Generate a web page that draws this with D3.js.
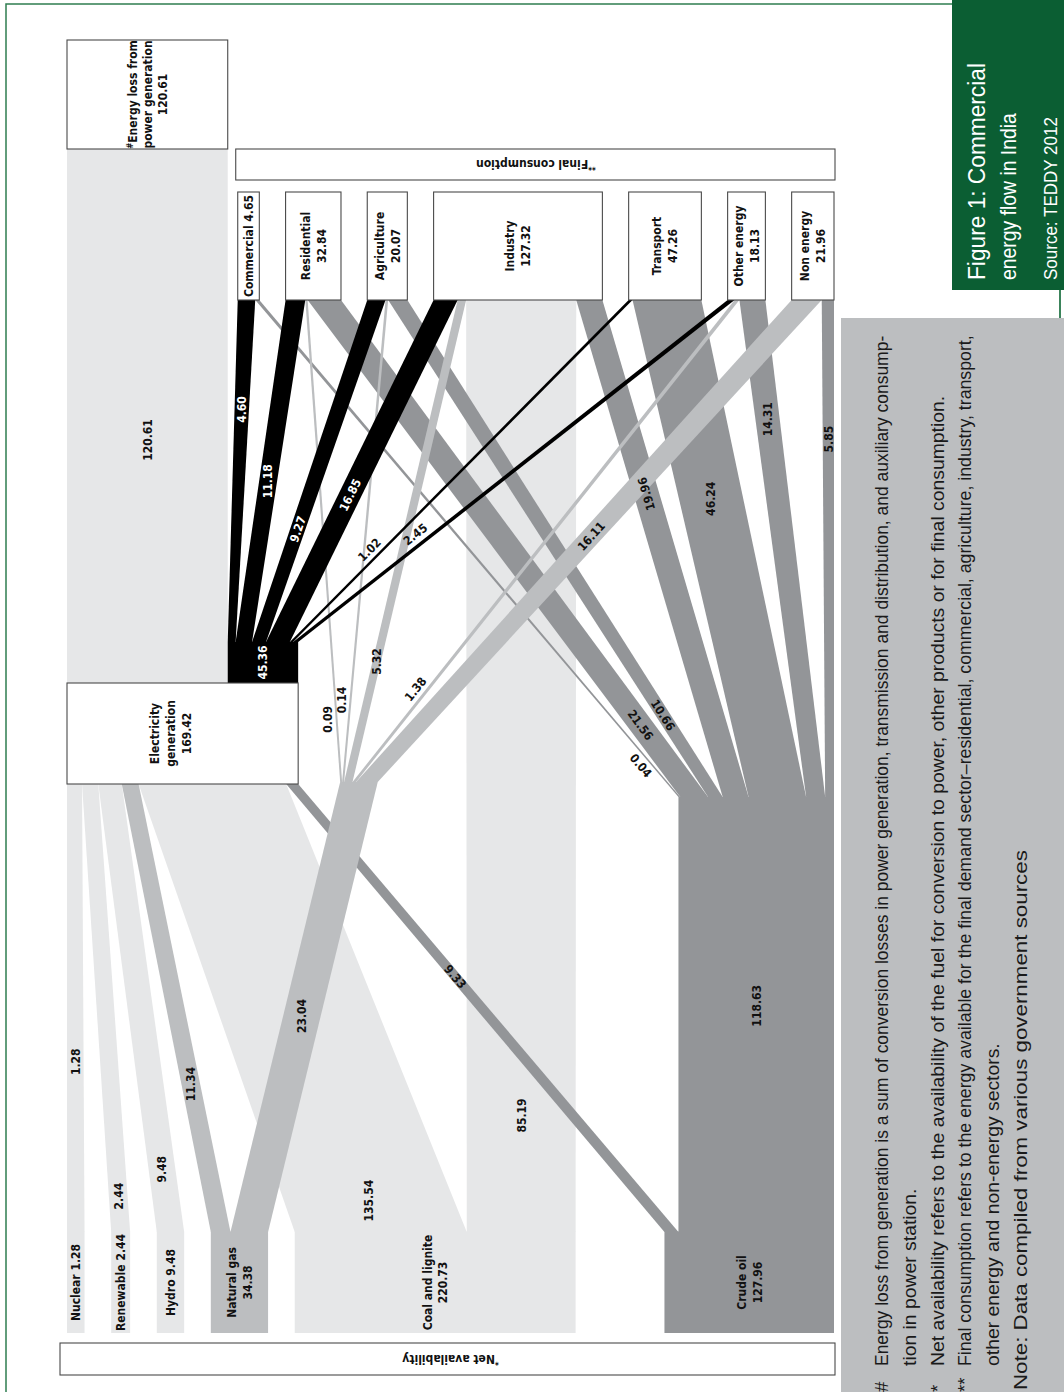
<!DOCTYPE html>
<html>
<head>
<meta charset="utf-8">
<script src="https://cdn.jsdelivr.net/npm/d3@7"></script>
<style>
  body { margin: 0; background: #fff; }
  svg { display: block; }
  .lbl { font-family: "DejaVu Sans Condensed", "DejaVu Sans", sans-serif; font-weight: bold; font-size: 12px; }
  .note { font-family: "Liberation Sans", Arial, sans-serif; fill: #1a1a1a; }
  .title { font-family: "Liberation Sans", Arial, sans-serif; fill: #fff; }
</style>
</head>
<body>
<svg id="chart" width="1064" height="1392"></svg>
<script>
// ---------------- data (mtoe) ----------------
var sourceNames = ["Nuclear", "Renewable", "Hydro", "Natural gas", "Coal and lignite", "Crude oil"];
var sourceValues = [1.28, 2.44, 9.48, 34.38, 220.73, 127.96];
var sourceToElectricity = [1.28, 2.44, 9.48, 11.34, 135.54, 9.33];

var electricityName = ["Electricity", "generation"];
var electricityValue = 169.42;
var lossName = ["#Energy loss from", "power generation"];
var lossValue = 120.61;
var electricityDelivered = 45.36;
var gasDirect = 23.04;
var crudeDirect = 118.63;

var sectorNames = ["Commercial", "Residential", "Agriculture", "Industry", "Transport", "Other energy", "Non energy"];
var sectorValues = [4.65, 32.84, 20.07, 127.32, 47.26, 18.13, 21.96];

// flows into each sector, same order as sectorNames (0 = no flow)
var electricityToSector = [4.60, 11.18, 9.27, 16.85, 1.02, 2.45, 0];
var gasToSector = [0, 0.09, 0.14, 5.32, 0, 1.38, 16.11];
var coalToSector = [0, 0, 0, 85.19, 0, 0, 0];
var crudeToSector = [0.04, 21.56, 10.66, 19.96, 46.24, 14.31, 5.85];

var netHeading = "*Net availability";
var finalHeading = "**Final consumption";
var titleLines = ["Figure 1: Commercial", "energy flow in India"];
var sourceLine = "Source: TEDDY 2012";
var noteMarks = ["#", "", "*", "**", "", null];
var noteLines = [
  "Energy loss from generation is a sum of conversion losses in power generation, transmission and distribution,  and auxiliary consump-",
  "tion in power station.",
  "Net availability refers to the availability of the fuel for conversion to power, other products or for final consumption.",
  "Final consumption refers to the energy available for the final demand sector\u2013residential, commercial, agriculture, industry, transport,",
  "other energy and non-energy sectors.",
  "Note: Data compiled from various government sources"
];

// ---------------- styles / layout ----------------
var lightC = "#e6e7e8", gasC = "#bcbec0", oilC = "#939598", elecC = "#000000";
var sourceColor = [lightC, lightC, lightC, gasC, lightC, oilC];
var layers = [lightC, oilC, gasC, elecC];

var left = 67, right = 834;
var Y = {
  lossTop: 40, finalTop: 149, finalBot: 180, sectorTop: 192, sectorBot: 300,
  blackTop: 642, elecTop: 683, elecBot: 784, gasFan: 782, oilFan: 797,
  srcTop: 1232, srcBot: 1333, netTop: 1343, netBot: 1375
};

// box widths and band weights (the original drawing is not strictly proportional)
var nodeW = d3.scaleLinear().domain([0, 100]).range([16, 136]);
var linkW = d3.scaleLinear().domain([0, 100]).range([2, 137]);
var fmt = d3.format(".2f");

// where along each band its value label sits (0 = source end, 1 = target end)
var labelT = {
  "src0>elec": 0.38, "src1>elec": 0.08, "src2>elec": 0.14, "src3>elec": 0.33, "src4>elec": 0.07, "src5>elec": 0.57,
  "src3>gasJ": 0.48, "src5>oilJ": 0.52, "src4>sec3": 0.125, "elec>loss": 0.455, "elec>elecOut": 0.5,
  "elecOut>sec0": 0.68, "elecOut>sec1": 0.47, "elecOut>sec2": 0.33, "elecOut>sec3": 0.43, "elecOut>sec4": 0.25, "elecOut>sec5": 0.29,
  "gasJ>sec1": 0.13, "gasJ>sec2": 0.17, "gasJ>sec3": 0.25, "gasJ>sec5": 0.18, "gasJ>sec6": 0.51,
  "oilJ>sec0": 0.075, "oilJ>sec1": 0.145, "oilJ>sec2": 0.165, "oilJ>sec3": 0.61, "oilJ>sec4": 0.6, "oilJ>sec5": 0.76, "oilJ>sec6": 0.72
};

// ---------------- graph ----------------
var nodes = [], links = [], byId = {};
function addNode(o) { nodes.push(o); byId[o.id] = o; return o; }
function addLink(s, t, v, color) { if (v > 0) links.push({source: byId[s], target: byId[t], value: v, color: color}); }

sourceNames.forEach(function(name, i) {
  addNode({id: "src" + i, name: name, value: sourceValues[i], kind: "source", rank: i, yOut: Y.srcTop});
});
addNode({id: "elec", value: electricityValue, kind: "elec", rank: -1, yIn: Y.elecBot, yOut: Y.elecTop});
addNode({id: "loss", value: lossValue, kind: "loss", rank: -2, yIn: Y.finalTop});
addNode({id: "elecOut", value: electricityDelivered, kind: "junction", rank: 2, yIn: Y.blackTop, yOut: Y.blackTop});
addNode({id: "gasJ", value: gasDirect, kind: "junction", rank: 3.5, yIn: Y.gasFan, yOut: Y.gasFan});
addNode({id: "oilJ", value: crudeDirect, kind: "junction", rank: 5.5, yIn: Y.oilFan, yOut: Y.oilFan});
sectorNames.forEach(function(name, j) {
  addNode({id: "sec" + j, name: name, value: sectorValues[j], kind: "sector", rank: 10 + j, yIn: Y.sectorBot});
});

sourceToElectricity.forEach(function(v, i) { addLink("src" + i, "elec", v, sourceColor[i]); });
addLink("src3", "gasJ", gasDirect, gasC);
addLink("src5", "oilJ", crudeDirect, oilC);
coalToSector.forEach(function(v, j) { addLink("src4", "sec" + j, v, lightC); });
addLink("elec", "loss", lossValue, lightC);
addLink("elec", "elecOut", electricityDelivered, elecC);
electricityToSector.forEach(function(v, j) { addLink("elecOut", "sec" + j, v, elecC); });
gasToSector.forEach(function(v, j) { addLink("gasJ", "sec" + j, v, gasC); });
crudeToSector.forEach(function(v, j) { addLink("oilJ", "sec" + j, v, oilC); });

// ---------------- widths (nodes are in flow order) ----------------
nodes.forEach(function(n) {
  n.ins = links.filter(function(l) { return l.target === n; }).sort(function(a, b) { return a.source.rank - b.source.rank; });
  n.outs = links.filter(function(l) { return l.source === n; }).sort(function(a, b) { return a.target.rank - b.target.rank; });
  if (n.kind === "source" || n.kind === "sector") n.w = nodeW(n.value);
  // the electricity box spans the loss box and the delivered block
  if (n.kind === "elec") n.w = d3.sum(n.outs, function(l) { return nodeW(l.value); });
});
nodes.forEach(function(n) {
  if (n.w === undefined) n.w = d3.sum(n.ins, function(l) { return l.w0; });
  var sIn = d3.sum(n.ins, function(l) { return l.w0; }), acc = 0;
  n.ins.forEach(function(l) { l.w1 = l.w0 * n.w / sIn; l.o1 = acc; acc += l.w1; });
  var wt = n.kind === "elec" ? nodeW : linkW;
  var sOut = d3.sum(n.outs, function(l) { return wt(l.value); });
  acc = 0;
  n.outs.forEach(function(l) { l.w0 = wt(l.value) * n.w / sOut; l.o0 = acc; acc += l.w0; });
});

// ---------------- positions ----------------
function justify(list, x0, x1, trailing) {
  var gap = (x1 - x0 - d3.sum(list, function(n) { return n.w; })) / (list.length - (trailing ? 0 : 1));
  var x = x0;
  list.forEach(function(n) { n.x0 = x; x += n.w + gap; });
}
var elec = byId.elec, loss = byId.loss, coal = byId.src4, crude = byId.src5;
elec.x0 = left;
elec.outs.forEach(function(l) { l.target.x0 = elec.x0 + l.o0; });
var sectors = nodes.filter(function(n) { return n.kind === "sector"; });
justify(sectors, loss.x0 + loss.w + 10, right, false);
// coal sits so that its flow into industry runs straight up
var coalInd = coal.outs.filter(function(l) { return l.target.kind === "sector"; })[0];
coal.x0 = coalInd.target.x0 + coalInd.o1 + coalInd.w1 / 2 - (coalInd.o0 + coalInd.w0 / 2);
crude.x0 = right - crude.w;
justify(nodes.filter(function(n) { return n.kind === "source" && n.rank < 4; }), left, coal.x0, true);
byId.gasJ.x0 = elec.x0 + elec.w + 42;
crude.outs.forEach(function(l) { if (l.target.id === "oilJ") l.target.x0 = crude.x0 + l.o0; });

// ---------------- drawing ----------------
var svg = d3.select("#chart");

svg.append("rect").attr("x", 6).attr("y", 4).attr("width", 1054).attr("height", 1420)
  .attr("fill", "none").attr("stroke", "#2f7d50").attr("stroke-width", 1.5);

var layerG = layers.map(function() { return svg.append("g"); });

nodes.filter(function(n) { return n.kind === "source"; }).forEach(function(n) {
  var c = sourceColor[n.rank];
  layerG[layers.indexOf(c)].append("rect")
    .attr("x", n.x0).attr("y", Y.srcTop - 0.5).attr("width", n.w).attr("height", Y.srcBot - Y.srcTop + 0.5)
    .attr("fill", c);
});

function ends(l) {
  return {
    xs0: l.source.x0 + l.o0, ys: l.source.yOut,
    xt0: l.target.x0 + l.o1, yt: l.target.yIn
  };
}
links.forEach(function(l) {
  var e = ends(l);
  var p = d3.path();
  p.moveTo(e.xs0, e.ys);
  p.lineTo(e.xs0 + l.w0, e.ys);
  p.lineTo(e.xt0 + l.w1, e.yt);
  p.lineTo(e.xt0, e.yt);
  p.closePath();
  layerG[layers.indexOf(l.color)].append("path").attr("d", p.toString()).attr("fill", l.color);
});

// boxes
var boxG = svg.append("g").attr("fill", "#fff").attr("stroke", "#4a4a4a").attr("stroke-width", 1.1);
function box(x0, y0, x1, y1) {
  boxG.append("rect").attr("x", x0).attr("y", y0).attr("width", x1 - x0).attr("height", y1 - y0);
}
sectors.forEach(function(n) { box(n.x0, Y.sectorTop, n.x0 + n.w, Y.sectorBot); });
box(elec.x0, Y.elecTop, elec.x0 + elec.w, Y.elecBot);
box(loss.x0, Y.lossTop, loss.x0 + loss.w, Y.finalTop);
var lastSector = sectors[sectors.length - 1];
box(sectors[0].x0 - 2, Y.finalTop, lastSector.x0 + lastSector.w + 1, Y.finalBot);
box(byId.src0.x0 - 7, Y.netTop, crude.x0 + crude.w + 1, Y.netBot);

// text helpers
var textG = svg.append("g");
function lineText(sel, s) {
  var m = /^([#*]+)(.*)$/.exec(s);
  if (m) {
    sel.append("tspan").attr("font-size", "8px").attr("baseline-shift", "super").text(m[1]);
    sel.append("tspan").text(m[2]);
  } else sel.text(s);
}
function label(x, y, angle, lines, fill, lh) {
  var g = textG.append("g").attr("transform", "translate(" + x + "," + y + ") rotate(" + angle + ")");
  lines.forEach(function(s, i) {
    var t = g.append("text").attr("class", "lbl").attr("text-anchor", "middle")
      .attr("y", (i - (lines.length - 1) / 2) * (lh || 16)).attr("dy", "0.36em")
      .style("fill", fill || "#111");
    lineText(t, s);
  });
}

// node labels
nodes.forEach(function(n) {
  var cx = n.x0 + n.w / 2;
  if (n.kind === "source" || n.kind === "sector") {
    var lines = n.w < 30 ? [n.name + " " + fmt(n.value)] : [n.name, fmt(n.value)];
    var cy = n.kind === "source" ? (Y.srcTop + Y.srcBot) / 2 : (Y.sectorTop + Y.sectorBot) / 2;
    label(cx, cy, -90, lines);
  }
});
label(elec.x0 + elec.w * 0.45, (Y.elecTop + Y.elecBot) / 2, -90, electricityName.concat(fmt(electricityValue)));
label(loss.x0 + loss.w / 2, (Y.lossTop + Y.finalTop) / 2, -90, lossName.concat(fmt(lossValue)), null, 15);
label((sectors[0].x0 + lastSector.x0 + lastSector.w) / 2, (Y.finalTop + Y.finalBot) / 2, 180, [finalHeading]);
label((byId.src0.x0 + crude.x0 + crude.w) / 2, (Y.netTop + Y.netBot) / 2, 180, [netHeading]);

// flow labels
links.forEach(function(l) {
  var key = l.source.id + ">" + l.target.id;
  var t = labelT[key] !== undefined ? labelT[key] : 0.5;
  var e = ends(l);
  var xs = e.xs0 + l.w0 / 2, xt = e.xt0 + l.w1 / 2;
  var x = xs + (xt - xs) * t, y = e.ys + (e.yt - e.ys) * t;
  var w = l.w0 + (l.w1 - l.w0) * t;
  var ang = Math.atan2(e.yt - e.ys, xt - xs) * 180 / Math.PI;
  if (w > 40 || Math.abs(ang + 90) < 15) ang = -90;
  else if (ang < -110) ang += 180;
  var fill = l.color === elecC ? "#fff" : "#111";
  if (w < 8) {
    var r = ang * Math.PI / 180, ux = Math.sin(r), uy = -Math.cos(r);
    if (ux > 0) { ux = -ux; uy = -uy; }
    x += ux * (w / 2 + 8); y += uy * (w / 2 + 8);
    fill = "#111";
  }
  label(x, y, ang, [fmt(l.value)], fill);
});

// notes panel (narrow type: the regular face squeezed along the line)
svg.append("rect").attr("x", 841).attr("y", 318).attr("width", 223).attr("height", 1074).attr("fill", "#bcbec0");
function squeezed(x, y, str, cls, size) {
  var g = svg.append("g").attr("transform", "translate(" + x + "," + y + ") rotate(-90)");
  var t = g.append("text").attr("class", cls).attr("font-size", size + "px").text(str);
  var len = t.node().getComputedTextLength();
  return {
    fit: function(k) { g.attr("transform", "translate(" + x + "," + y + ") rotate(-90) scale(" + k + ",1)"); },
    len: len
  };
}
var notes = noteLines.map(function(s, i) {
  return squeezed(888 + i * 27.8, noteMarks[i] === null ? 1390 : 1366, s, "note", 18.5);
});
var noteK = 971 / notes[2].len;
notes.forEach(function(n, i) {
  if (i === 0 || i === 3) n.fit(Math.min(noteK, 1031 / n.len));   // justified lines
  else if (noteMarks[i] === null) n.fit(540 / n.len);              // closing note, wider type
  else n.fit(noteK);
});
noteMarks.forEach(function(m, i) {
  if (m) squeezed(888 + i * 27.8, 1392, m, "note", 18.5);
});

// title panel
svg.append("rect").attr("x", 952).attr("y", 0).attr("width", 112).attr("height", 290).attr("fill", "#0b5e33");
svg.append("line").attr("x1", 1060).attr("x2", 1060).attr("y1", 290).attr("y2", 318).attr("stroke", "#2f7d50").attr("stroke-width", 1.5);
var tl1 = squeezed(985, 280, titleLines[0], "title", 23);
tl1.fit(217 / tl1.len);
var tl2 = squeezed(1016, 280, titleLines[1], "title", 23);
tl2.fit(167 / tl2.len);
var tl3 = squeezed(1057, 280, sourceLine, "title", 18);
tl3.fit(163 / tl3.len);
</script>
</body>
</html>
